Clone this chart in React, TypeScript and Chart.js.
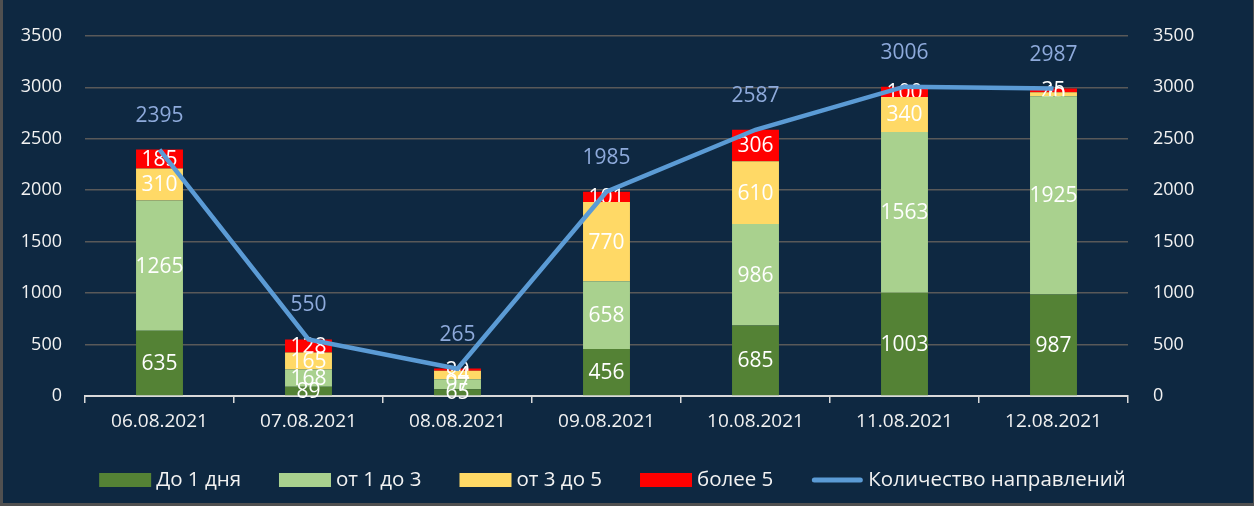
import React, { useEffect, useRef } from 'react';
import { Chart, registerables } from 'chart.js';

Chart.register(...registerables);

const categories = ['06.08.2021', '07.08.2021', '08.08.2021', '09.08.2021', '10.08.2021', '11.08.2021', '12.08.2021'];
const upTo1Day = [635, 89, 65, 456, 685, 1003, 987];
const from1To3 = [1265, 168, 97, 658, 986, 1563, 1925];
const from3To5 = [310, 165, 84, 770, 610, 340, 40];
const over5 = [185, 128, 20, 101, 306, 100, 35];
const totalDirections = [2395, 550, 265, 1985, 2587, 3006, 2987];
const axisMin = 0;
const axisMax = 3500;
const axisStep = 500;

const FONT = '"Open Sans", "DejaVu Sans", sans-serif';
const BG = '#0e2841';

const backgroundPlugin = {
  id: 'bg',
  beforeDraw(chart: any) {
    const { ctx, width, height } = chart;
    ctx.save();
    ctx.fillStyle = BG;
    ctx.fillRect(0, 0, width, height);
    ctx.fillStyle = '#505050';
    ctx.fillRect(0, 0, 3, height);
    ctx.fillRect(0, height - 3, width, 3);
    ctx.fillRect(width - 1, 0, 1, height);
    ctx.restore();
  },
};

const barLabelPlugin = {
  id: 'barLabels',
  afterDatasetDraw(chart: any, args: any) {
    const ds = chart.data.datasets[args.index];
    if (ds.type === 'line') return;
    const meta = args.meta;
    const ctx = chart.ctx;
    ctx.save();
    ctx.font = `21px ${FONT}`;
    ctx.fillStyle = '#ffffff';
    ctx.textAlign = 'center';
    ctx.textBaseline = 'middle';
    meta.data.forEach((el: any, i: number) => {
      const v = ds.data[i];
      const y = (el.y + el.base) / 2;
      ctx.fillText(String(v), el.x, y + 1);
    });
    ctx.restore();
  },
  afterDatasetsDraw(chart: any) {
    chart.data.datasets.forEach((ds: any, di: number) => {
      if (ds.type !== 'line') return;
      const meta = chart.getDatasetMeta(di);
      const ctx = chart.ctx;
      ctx.save();
      ctx.font = `21px ${FONT}`;
      ctx.fillStyle = '#8eaadb';
      ctx.textAlign = 'center';
      ctx.textBaseline = 'middle';
      meta.data.forEach((el: any, i: number) => {
        ctx.fillText(String(ds.data[i]), el.x, el.y - 34);
      });
      ctx.restore();
    });
  },
};

const legendPlugin = {
  id: 'customLegend',
  afterDraw(chart: any) {
    const { ctx, chartArea } = chart;
    ctx.save();
    ctx.font = `20.5px ${FONT}`;
    ctx.textBaseline = 'middle';
    ctx.textAlign = 'left';
    const boxW = 52;
    const boxH = 14;
    const gapText = 5;
    const gapItem = 38;
    const items = chart.data.datasets.map((ds: any) => ({
      label: ds.label,
      color: ds.type === 'line' ? ds.borderColor : ds.backgroundColor,
      isLine: ds.type === 'line',
    }));
    const widths = items.map((it: any) => boxW + gapText + ctx.measureText(it.label).width);
    const total = widths.reduce((a: number, b: number) => a + b, 0) + gapItem * (items.length - 1);
    let x = (chartArea.left + chartArea.right) / 2 - total / 2 + 6;
    const y = 480;
    items.forEach((it: any, i: number) => {
      if (it.isLine) {
        ctx.strokeStyle = it.color;
        ctx.lineWidth = 5;
        ctx.lineCap = 'round';
        ctx.beginPath();
        ctx.moveTo(x + 3, y);
        ctx.lineTo(x + boxW - 3, y);
        ctx.stroke();
      } else {
        ctx.fillStyle = it.color;
        ctx.fillRect(x, y - boxH / 2, boxW, boxH);
      }
      ctx.fillStyle = '#f2f2f2';
      ctx.fillText(it.label, x + boxW + gapText, y);
      x += widths[i] + gapItem;
    });
    ctx.restore();
  },
};

const plainTick = (v: any) => String(v);

export default function App() {
  const ref = useRef<HTMLCanvasElement | null>(null);
  useEffect(() => {
    if (!ref.current) return;
    const barCommon = { type: 'bar', stack: 's', order: 1, yAxisID: 'y', barPercentage: 0.315, categoryPercentage: 1, borderWidth: 0 };
    const chart = new Chart(ref.current, {
      type: 'bar',
      data: {
        labels: categories,
        datasets: [
          { ...barCommon, label: 'До 1 дня', data: upTo1Day, backgroundColor: '#548235' },
          { ...barCommon, label: 'от 1 до 3', data: from1To3, backgroundColor: '#a9d18e' },
          { ...barCommon, label: 'от 3 до 5', data: from3To5, backgroundColor: '#ffd966' },
          { ...barCommon, label: 'более 5', data: over5, backgroundColor: '#ff0000' },
          {
            type: 'line',
            label: 'Количество направлений',
            data: totalDirections,
            borderColor: '#5b9bd5',
            backgroundColor: '#5b9bd5',
            borderWidth: 4.5,
            pointRadius: 0,
            tension: 0,
            order: 0,
            yAxisID: 'y',
          },
        ] as any,
      },
      options: {
        responsive: false,
        animation: false,
        devicePixelRatio: 1,
        layout: { padding: { top: 35, left: 0, right: 0, bottom: 0 } },
        plugins: { legend: { display: false }, tooltip: { enabled: false } },
        scales: {
          x: {
            stacked: true,
            offset: true,
            grid: { display: true, drawOnChartArea: false, drawTicks: true, tickLength: 7, color: '#d9d9d9', offset: true, lineWidth: 1.5 },
            border: { display: true, color: '#d9d9d9', width: 2 },
            ticks: { color: '#f2f2f2', font: { family: FONT, size: 19 }, padding: 7, maxRotation: 0 },
            afterFit(scale: any) { scale.height = 110; },
          },
          y: {
            stacked: true,
            position: 'left',
            min: axisMin,
            max: axisMax,
            grid: { color: '#595959', lineWidth: 1.5, drawTicks: false },
            border: { display: false },
            ticks: { stepSize: axisStep, color: '#f2f2f2', font: { family: FONT, size: 18 }, padding: 23, callback: plainTick },
            afterFit(scale: any) { scale.width = 85; },
          },
          y1: {
            position: 'right',
            min: axisMin,
            max: axisMax,
            grid: { display: false, drawTicks: false },
            border: { display: false },
            ticks: { stepSize: axisStep, color: '#f2f2f2', font: { family: FONT, size: 18 }, padding: 25, callback: plainTick },
            afterFit(scale: any) { scale.width = 126; },
          },
        },
      } as any,
      plugins: [backgroundPlugin, barLabelPlugin, legendPlugin],
    });
    return () => chart.destroy();
  }, []);
  return (
    <div style={{ position: 'absolute', left: 0, top: 0, width: 1254, height: 506 }}>
      <canvas ref={ref} width={1254} height={506} style={{ display: 'block' }} />
    </div>
  );
}
